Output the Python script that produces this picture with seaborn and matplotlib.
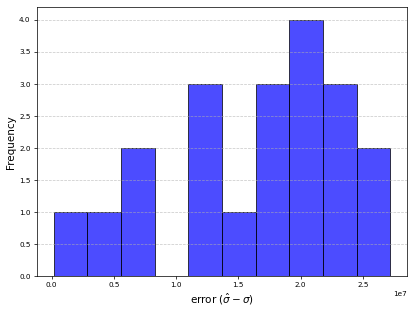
import seaborn as sns
import matplotlib.pyplot as plt
import pandas as pd

errors = [
    0.018e7,
    0.41e7,
    0.63e7, 0.75e7,
    1.15e7, 1.22e7, 1.31e7,
    1.50e7,
    1.70e7, 1.78e7, 1.86e7,
    1.95e7, 2.02e7, 2.08e7, 2.14e7,
    2.25e7, 2.33e7, 2.40e7,
    2.55e7, 2.72e7,
]
n_bins = 10

df = pd.DataFrame({'error': errors})

fig, ax = plt.subplots(figsize=(415 / 65, 312 / 65), dpi=65)
sns.histplot(
    data=df,
    x='error',
    bins=n_bins,
    color='blue',
    alpha=0.7,
    edgecolor='black',
    linewidth=0.8,
    ax=ax
)
ax.set_xlabel(r'error ($\hat{\sigma} - \sigma$)', fontsize=11.5)
ax.set_ylabel('Frequency', fontsize=11.5)
ax.tick_params(labelsize=8)
ax.xaxis.get_offset_text().set_fontsize(8)
ax.yaxis.grid(True, linestyle='--', alpha=0.7)
fig.subplots_adjust(left=0.089, right=0.981, bottom=0.115, top=0.977)
fig.savefig('out.png', dpi=65)
plt.close()
